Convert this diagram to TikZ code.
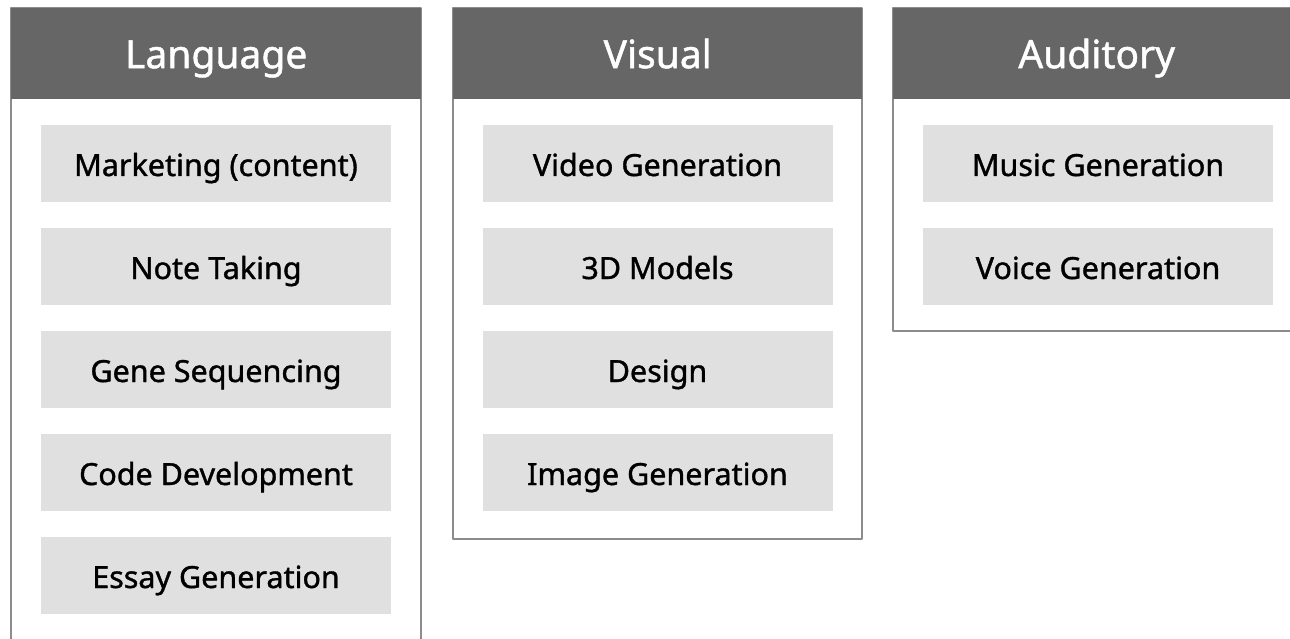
\documentclass[tikz,border=0pt]{standalone}
\usepackage{fontspec}
\setmainfont{Noto Sans}[FakeBold=1.2, UprightFont=*, BoldFont=*]
\usetikzlibrary{positioning}
\definecolor{headgray}{HTML}{666666}
\definecolor{itemgray}{HTML}{E0E0E0}
\definecolor{framegray}{HTML}{8C8C8C}
\begin{document}
\begin{tikzpicture}[x=1pt, y=-1pt, line join=round,
    panel/.style={draw=framegray, line width=1.2pt, fill=white},
    header/.style={fill=headgray, text=white, inner sep=0pt, anchor=north west,
        minimum height=91pt, text height=29pt, text depth=0pt,
        font=\fontsize{39}{44}\selectfont\bfseries},
    item/.style={fill=itemgray, inner sep=0pt, minimum width=350pt,
        minimum height=77pt, text height=25pt, text depth=0pt,
        font=\fontsize{30.5}{36}\selectfont\bfseries}]
    \useasboundingbox (0,0) rectangle (1290,639);
    \clip (0,0) rectangle (1290,639);
    % panels
    \draw[panel] (11,8) rectangle (421,660);
    \draw[panel] (453,8) rectangle (862,539);
    \draw[panel] (893,8) rectangle (1300,331);
    % headers
    \node[header, minimum width=410pt] (language) at (11,8) {Language};
    \node[header, minimum width=409pt] (visual) at (453,8) {Visual};
    \node[header, minimum width=407pt, text width=397pt, align=center] (auditory) at (893,8) {Auditory};
    % items
    \foreach \txt [count=\i] in {Marketing (content), Note Taking, Gene Sequencing, Code Development, Essay Generation}
        \node[item] (language\i) at (216, {163.5+103*(\i-1)}) {\txt};
    \foreach \txt [count=\i] in {Video Generation, 3D Models, Design, Image Generation}
        \node[item] (visual\i) at (657.5, {163.5+103*(\i-1)}) {\txt};
    \foreach \txt [count=\i] in {Music Generation, Voice Generation}
        \node[item] (auditory\i) at (1098, {163.5+103*(\i-1)}) {\txt};
\end{tikzpicture}
\end{document}
